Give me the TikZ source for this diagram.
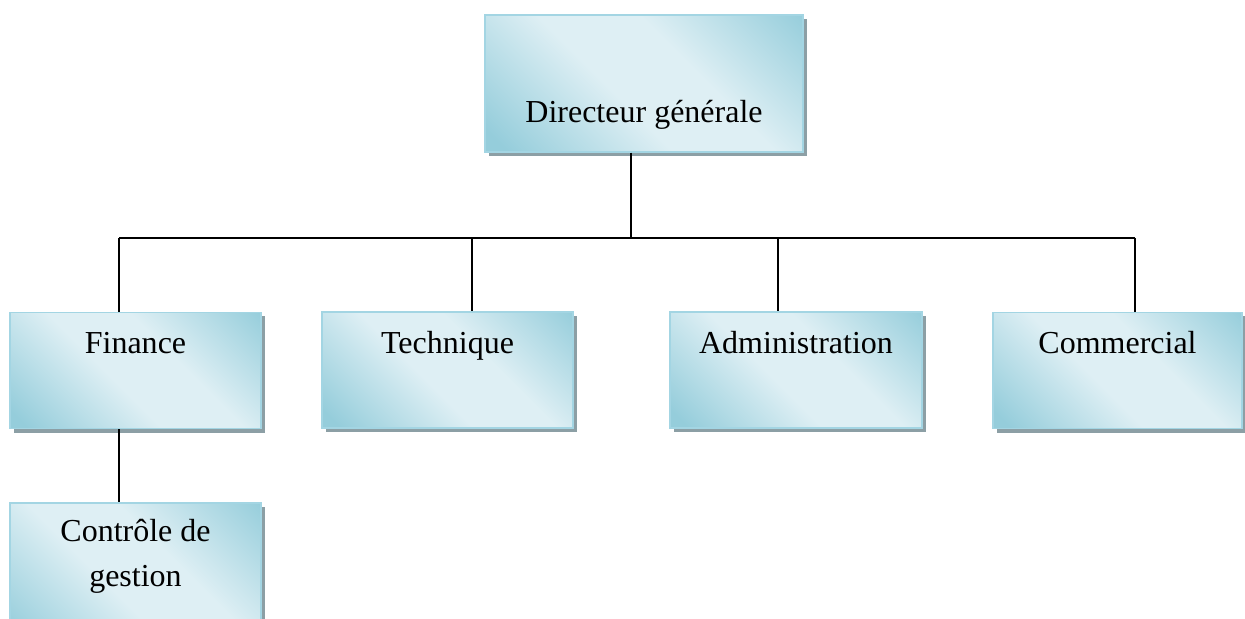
\documentclass[tikz,border=0pt]{standalone}
\usepackage{fontspec}
\setmainfont{Liberation Serif}
\usetikzlibrary{shadows}
\definecolor{boxdark}{HTML}{95CDDB}
\definecolor{boxlight}{HTML}{DEEFF4}
\definecolor{boxedge}{HTML}{A3D5E3}
\definecolor{boxshadow}{HTML}{8C9FA5}
% diagonal sheen: darker corners, light band across the middle
\pgfdeclarehorizontalshading{boxsheen}{100bp}{%
  color(0bp)=(boxdark); color(18bp)=(boxdark);
  color(44bp)=(boxlight); color(60bp)=(boxlight);
  color(86bp)=(boxdark); color(100bp)=(boxdark)}
\tikzset{
  unitbox/.style={
    draw=boxedge, line width=0.7pt, inner sep=0pt,
    shading=boxsheen, shading angle=45,
    general shadow={fill=boxshadow, shadow xshift=2pt, shadow yshift=-2pt}
  },
  boxtext/.style={anchor=base, align=center, inner sep=0pt,
    font=\fontsize{16}{22.5}\selectfont},
  link/.style={draw=black, line width=0.8pt}
}
\begin{document}
\begin{tikzpicture}[x=0.5pt, y=-0.5pt]
  \useasboundingbox (0,0) rectangle (1245,619);
  \clip (0,0) rectangle (1245,619);

  % boxes
  \node[unitbox, minimum width=159pt, minimum height=68.5pt] (dir) at (644,83.5) {};
  \node[unitbox, minimum width=125.5pt, minimum height=58pt] (fin) at (135.5,370.5) {};
  \node[unitbox, minimum width=125.5pt, minimum height=58pt] (tec) at (447.5,370) {};
  \node[unitbox, minimum width=126pt, minimum height=58pt] (adm) at (796,370) {};
  \node[unitbox, minimum width=124.5pt, minimum height=58pt] (com) at (1117.5,370.5) {};
  \node[unitbox, minimum width=125.5pt, minimum height=75pt] (ctl) at (135.5,578) {};

  % labels
  \node[boxtext] (dir-t) at (644,123) {Directeur générale};
  \node[boxtext] (fin-t) at (135.5,354) {Finance};
  \node[boxtext] (tec-t) at (447.5,354) {Technique};
  \node[boxtext] (adm-t) at (796,354) {Administration};
  \node[boxtext] (com-t) at (1117.5,354) {Commercial};
  \node[boxtext, anchor=north] (ctl-t) at (135.5,519) {Contrôle de\\gestion};

  % junction points on the horizontal bus
  \coordinate (jd) at (631,238);
  \coordinate (jf) at (119,238);
  \coordinate (jt) at (472,238);
  \coordinate (ja) at (778,238);
  \coordinate (jc) at (1135,238);

  % connectors
  \draw[link] (dir.south -| jd) -- (jd);
  \draw[link] (jf) -- (jc);
  \draw[link] (jf) -- (jf |- fin.north);
  \draw[link] (jt) -- (jt |- tec.north);
  \draw[link] (ja) -- (ja |- adm.north);
  \draw[link] (jc) -- (jc |- com.north);
  \draw[link] (fin.south -| jf) -- (jf |- ctl.north);
\end{tikzpicture}
\end{document}
